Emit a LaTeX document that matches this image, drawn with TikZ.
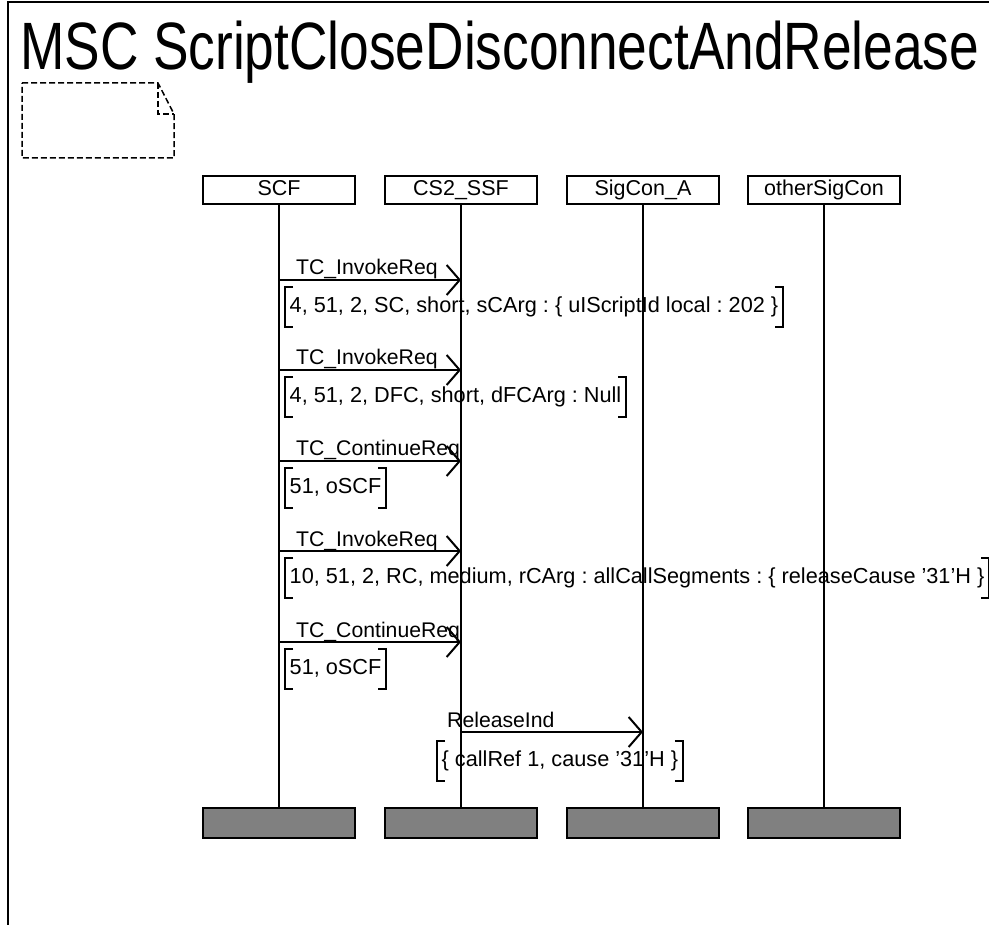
\documentclass[tikz,border=0pt]{standalone}
\usepackage{fontspec}
\setmainfont{Liberation Sans}
\usetikzlibrary{arrows.meta, positioning}
\frenchspacing

\newcommand{\parbrack}[1]{%
  \draw[line width=2pt] ([xshift=8pt]#1.north west) -- (#1.north west) -- (#1.south west) -- ([xshift=8pt]#1.south west);
  \draw[line width=2pt] ([xshift=-8pt]#1.north east) -- (#1.north east) -- (#1.south east) -- ([xshift=-8pt]#1.south east);}

\begin{document}
\begin{tikzpicture}[x=1pt,y=-1pt,
    inst/.style={draw,line width=1.5pt,minimum width=152pt,minimum height=28pt,inner sep=0pt,text height=16pt,text depth=4pt,font=\fontsize{21.5}{26}\selectfont},
    instend/.style={draw,line width=2pt,fill=black!50,minimum width=152pt,minimum height=30pt,inner sep=0pt},
    msg/.style={line width=2pt,-{Straight Barb[length=13pt,width=30pt,line width=2pt]}},
    lbl/.style={anchor=base west,inner sep=0pt,font=\fontsize{21.2}{26}\selectfont},
    param/.style={anchor=west,inner xsep=4.5pt,inner ysep=0pt,minimum height=40pt,text height=16pt,text depth=5pt,font=\fontsize{21.7}{26}\selectfont}]
	% Picture's values definition
	\def\hdrY{190}
	\def\endY{823}
	
	\useasboundingbox (0,0) rectangle (989,925);
	
	% FRAME
	\draw[line width=2pt] (8,925) -- (8,2) -- (989,2);
	\node[anchor=base west,inner sep=0pt,font=\fontsize{67}{67}\selectfont,xscale=0.795] (title) at (20,70) {MSC ScriptCloseDisconnectAndRelease};
	
	% NOTE
	\draw[line width=1.5pt,dash pattern=on 6pt off 3pt] (22,83) -- (158,83) -- (174,114) -- (174,158) -- (22,158) -- cycle;
	\draw[line width=1.5pt,dash pattern=on 6pt off 3pt] (158,83) -- (158,114) -- (174,114);
	
	% INSTANCE HEADS
	\node[inst] (scf) at (279,\hdrY) {SCF};
	\node[inst] (ssf) at (461,\hdrY) {CS2\_SSF};
	\node[inst] (sigA) at (643,\hdrY) {SigCon\_A};
	\node[inst] (other) at (824,\hdrY) {otherSigCon};
	
	% INSTANCE ENDS
	\node[instend] (scfEnd) at (279,\endY) {};
	\node[instend] (ssfEnd) at (461,\endY) {};
	\node[instend] (sigAEnd) at (643,\endY) {};
	\node[instend] (otherEnd) at (824,\endY) {};
	
	% LIFELINES
	\draw[line width=2pt] (scf.south) -- (scfEnd.north);
	\draw[line width=2pt] (ssf.south) -- (ssfEnd.north);
	\draw[line width=2pt] (sigA.south) -- (sigAEnd.north);
	\draw[line width=2pt] (other.south) -- (otherEnd.north);
	
	% MESSAGES SCF -> CS2_SSF
	\draw[msg] (scf |- 0,280) -- (ssf |- 0,280);
	\node[lbl] (m1) at (296,275) {TC\_InvokeReq};
	\node[param] (p1) at (285,307) {4, 51, 2, SC, short, sCArg : \{ uIScriptId local : 202 \}};
	\parbrack{p1}
	
	\draw[msg] (scf |- 0,370) -- (ssf |- 0,370);
	\node[lbl] (m2) at (296,365) {TC\_InvokeReq};
	\node[param] (p2) at (285,397) {4, 51, 2, DFC, short, dFCArg : Null};
	\parbrack{p2}
	
	\draw[msg] (scf |- 0,461) -- (ssf |- 0,461);
	\node[lbl] (m3) at (296,456) {TC\_ContinueReq};
	\node[param] (p3) at (285,488) {51, oSCF};
	\parbrack{p3}
	
	\draw[msg] (scf |- 0,551) -- (ssf |- 0,551);
	\node[lbl] (m4) at (296,546) {TC\_InvokeReq};
	\node[param] (p4) at (285,578) {10, 51, 2, RC, medium, rCArg : allCallSegments : \{ releaseCause ’31’H \}};
	\parbrack{p4}
	
	\draw[msg] (scf |- 0,642) -- (ssf |- 0,642);
	\node[lbl] (m5) at (296,637) {TC\_ContinueReq};
	\node[param] (p5) at (285,669) {51, oSCF};
	\parbrack{p5}
	
	% MESSAGE CS2_SSF -> SigCon_A
	\draw[msg] (ssf |- 0,732) -- (sigA |- 0,732);
	\node[lbl] (m6) at (447,727) {ReleaseInd};
	\node[param] (p6) at (437,761) {\{ callRef 1, cause ’31’H \}};
	\parbrack{p6}
\end{tikzpicture}
\end{document}
